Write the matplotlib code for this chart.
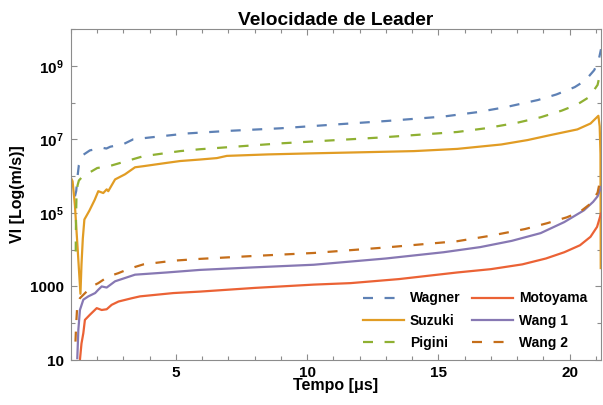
import matplotlib
matplotlib.use('Agg')
import matplotlib.pyplot as plt
import numpy as np

plt.rcParams['font.family'] = ['Liberation Sans', 'DejaVu Sans']
plt.rcParams['font.weight'] = 'bold'
plt.rcParams['mathtext.fontset'] = 'custom'
plt.rcParams['mathtext.rm'] = 'Liberation Sans:bold'
plt.rcParams['mathtext.bf'] = 'Liberation Sans:bold'

# time [us] and log10(velocity [m/s])
t_wagner = [1.15, 1.2, 1.25, 1.3, 1.47, 1.72, 2.2, 2.35, 2.5, 3.0, 3.37, 4.0, 5.42, 7.0,
            8.98, 11.0, 13.05, 15.2, 16.5, 17.6, 18.8, 19.5, 20.2, 20.6, 20.94, 21.1, 21.2]
v_wagner = [5.45, 5.6, 6.0, 6.3, 6.58, 6.7, 6.77, 6.75, 6.8, 6.87, 7.0, 7.05, 7.16, 7.23,
            7.3, 7.4, 7.5, 7.62, 7.74, 7.88, 8.07, 8.22, 8.42, 8.6, 8.88, 9.12, 9.45]

t_suzuki = [1.0, 1.06, 1.15, 1.22, 1.26, 1.36, 1.40, 1.45, 1.51, 1.70, 1.90, 2.04, 2.23,
            2.36, 2.42, 2.68, 3.06, 3.44, 3.76, 4.65, 5.16, 5.9, 6.56, 6.94, 8.5, 10.25,
            12.2, 14.07, 15.72, 17.4, 18.4, 19.3, 20.3, 20.8, 21.1, 21.15, 21.18, 21.19]
v_suzuki = [5.95, 5.86, 5.2, 4.4, 3.95, 2.8, 3.6, 4.3, 4.82, 5.06, 5.35, 5.59, 5.54,
            5.64, 5.59, 5.91, 6.05, 6.24, 6.27, 6.36, 6.41, 6.45, 6.49, 6.55, 6.59, 6.62,
            6.65, 6.68, 6.74, 6.86, 6.98, 7.12, 7.27, 7.43, 7.64, 7.35, 6.6, 3.5]

t_pigini = [1.18, 1.19, 1.21, 1.25, 1.3, 1.45, 1.64, 2.0, 2.5, 3.75, 5.16, 5.9, 8.98,
            12.8, 15.72, 16.8, 18.0, 18.9, 19.7, 20.3, 20.75, 21.07, 21.2]
v_pigini = [3.95, 4.8, 5.5, 5.75, 5.88, 6.0, 6.07, 6.22, 6.28, 6.54, 6.68, 6.73, 6.89,
            7.05, 7.2, 7.3, 7.45, 7.6, 7.78, 7.95, 8.15, 8.48, 8.9]

t_motoyama = [1.34, 1.4, 1.47, 1.53, 1.72, 1.98, 2.17, 2.36, 2.55, 2.81, 3.32, 3.63, 4.9,
              5.92, 8.0, 10.25, 11.65, 13.5, 15.72, 17.0, 18.2, 19.1, 19.8, 20.4, 20.8,
              21.05, 21.2]
v_motoyama = [1.0, 1.45, 1.73, 2.09, 2.23, 2.41, 2.36, 2.38, 2.5, 2.59, 2.68, 2.73, 2.82,
              2.86, 2.96, 3.05, 3.09, 3.2, 3.38, 3.47, 3.6, 3.76, 3.93, 4.12, 4.35,
              4.62, 4.98]

t_wang1 = [1.24, 1.28, 1.34, 1.47, 1.66, 1.92, 2.04, 2.17, 2.36, 2.68, 3.06, 3.44, 4.65,
           5.92, 8.0, 10.25, 13.0, 15.2, 16.6, 17.8, 18.9, 19.8, 20.55, 20.9, 21.07, 21.2]
v_wang1 = [1.05, 1.82, 2.36, 2.64, 2.73, 2.82, 2.91, 3.0, 2.97, 3.14, 3.23, 3.32, 3.38,
           3.45, 3.52, 3.59, 3.76, 3.93, 4.07, 4.24, 4.45, 4.75, 5.07, 5.3, 5.45, 5.7]

t_wang2 = [1.17, 1.2, 1.24, 1.34, 1.79, 2.04, 2.42, 2.8, 3.18, 3.44, 3.76, 4.9, 5.92,
           8.0, 10.25, 13.0, 15.72, 17.0, 18.3, 19.15, 19.9, 20.4, 20.8, 21.07, 21.2]
v_wang2 = [1.5, 2.0, 2.5, 2.68, 3.0, 3.09, 3.27, 3.36, 3.47, 3.53, 3.6, 3.7, 3.75,
           3.83, 3.91, 4.06, 4.23, 4.38, 4.56, 4.72, 4.88, 5.03, 5.25, 5.55, 6.0]

labels = ['Wagner', 'Suzuki', 'Pigini', 'Motoyama', 'Wang 1', 'Wang 2']
colors = ['#5E81B5', '#E19C24', '#8FB032', '#EB6235', '#8778B3', '#C56E1A']
dashed = [True, False, True, False, False, True]

series = [(t_wagner, v_wagner), (t_suzuki, v_suzuki), (t_pigini, v_pigini),
          (t_motoyama, v_motoyama), (t_wang1, v_wang1), (t_wang2, v_wang2)]

fig = plt.figure(figsize=(6.03, 4.05), dpi=100)
ax = fig.add_axes([71/603, 45/405, 530/603, 331/405])

for (t, v), lab, c, d in zip(series, labels, colors, dashed):
    line, = ax.plot(t, 10 ** np.array(v), color=c, lw=1.6, label=lab)
    if d:
        line.set_dashes((4.5, 5.2))

ax.set_yscale('log')
ax.set_xlim(1.0, 21.2)
ax.set_ylim(10, 1e10)

ax.set_xticks([5, 10, 15, 20])
ax.set_xticks(np.arange(1, 22), minor=True)
ax.set_yticks([1e1, 1e3, 1e5, 1e7, 1e9],
              ['10', '1000', r'$\mathbf{10^{5}}$', r'$\mathbf{10^{7}}$', r'$\mathbf{10^{9}}$'])
ax.set_yticks([1e2, 1e4, 1e6, 1e8, 1e10], minor=True)
ax.yaxis.set_minor_formatter(matplotlib.ticker.NullFormatter())

for s in ax.spines.values():
    s.set_color('#8c8c8c')
ax.tick_params(which='both', direction='in', top=True, right=True, color='#8c8c8c',
               width=0.8, labelsize=11)
ax.tick_params(which='major', length=4)
ax.tick_params(which='minor', length=3)
ax.tick_params(axis='y', pad=5)
ax.tick_params(axis='x', pad=4)

ax.set_title('Velocidade de Leader', fontsize=13.8, fontweight='bold', pad=3)
ax.set_xlabel('Tempo [μs]', fontsize=11.5, fontweight='bold')
ax.xaxis.set_label_coords(0.5, -0.055)
ax.set_ylabel('Vl [Log(m/s)]', fontsize=11.5, fontweight='bold')
ax.yaxis.set_label_coords(-0.087, 0.5)

ax.legend(loc='lower right', ncol=2, frameon=False, fontsize=10,
          handlelength=3.0, handletextpad=0.4, columnspacing=0.8, labelspacing=0.6,
          borderpad=0, borderaxespad=0, bbox_to_anchor=(0.974, 0.03))

fig.savefig('out.png', dpi=100)
